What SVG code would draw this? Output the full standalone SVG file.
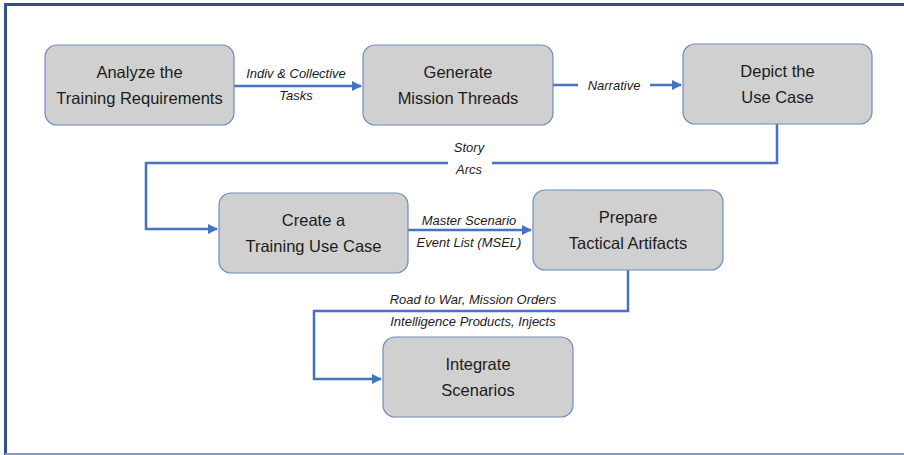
<svg xmlns="http://www.w3.org/2000/svg" width="904" height="455" viewBox="0 0 904 455">
  <defs>
    <marker id="arrow" viewBox="0 0 10 10" refX="9" refY="5" markerWidth="4" markerHeight="4" orient="auto" markerUnits="strokeWidth">
      <path d="M0,0 L10,5 L0,10 z" fill="#4472c4"/>
    </marker>
    <style>
      .node rect { fill: #d0d0d0; stroke: #6f8cbf; stroke-width: 1.2; }
      .node text { font-family: "Liberation Sans", Arial, sans-serif; font-size: 16.5px; fill: #1c1c1c; text-anchor: middle; }
      .conn path { fill: none; stroke: #4472c4; stroke-width: 2.5; }
      .lbl { font-family: "Liberation Sans", Arial, sans-serif; font-size: 13px; font-style: italic; fill: #1c1c1c; text-anchor: middle; }
    </style>
  </defs>
  <rect x="0" y="0" width="904" height="455" fill="#ffffff"/>
  <g id="frame">
    <line x1="5.5" y1="4.5" x2="904" y2="4.5" stroke="#34508a" stroke-width="3"/>
    <line x1="5.5" y1="3" x2="5.5" y2="455" stroke="#34508a" stroke-width="3"/>
    <line x1="5" y1="454" x2="904" y2="454" stroke="#8a9ab8" stroke-width="2"/>
  </g>
  <g id="connectors" class="conn">
    <path d="M234,86 H361" marker-end="url(#arrow)"/>
    <path d="M553,85 H578 M650,85 H681" marker-end="url(#arrow)"/>
    <path d="M777,124 V163 H492 M448,163 H146 V229 H217" marker-end="url(#arrow)"/>
    <path d="M408,230 H531" marker-end="url(#arrow)"/>
    <path d="M628,270 V311 H314 V379 H381" marker-end="url(#arrow)"/>
  </g>
  <g id="labels">
    <text class="lbl" x="296" y="78">Indiv &amp; Collective</text>
    <text class="lbl" x="296" y="100">Tasks</text>
    <text class="lbl" x="614" y="90">Narrative</text>
    <text class="lbl" x="469" y="152">Story</text>
    <text class="lbl" x="469" y="174">Arcs</text>
    <text class="lbl" x="469" y="225">Master Scenario</text>
    <text class="lbl" x="469" y="247">Event List (MSEL)</text>
    <text class="lbl" x="473" y="304">Road to War, Mission Orders</text>
    <text class="lbl" x="473" y="326">Intelligence Products, Injects</text>
  </g>
  <g id="node-analyze" class="node">
    <rect x="45" y="45" width="189" height="80" rx="12"/>
    <text x="139.5" y="78">Analyze the</text>
    <text x="139.5" y="104">Training Requirements</text>
  </g>
  <g id="node-generate" class="node">
    <rect x="363" y="45" width="190" height="80" rx="12"/>
    <text x="458" y="78">Generate</text>
    <text x="458" y="104">Mission Threads</text>
  </g>
  <g id="node-depict" class="node">
    <rect x="683" y="44" width="189" height="80" rx="12"/>
    <text x="777.5" y="77">Depict the</text>
    <text x="777.5" y="103">Use Case</text>
  </g>
  <g id="node-create" class="node">
    <rect x="219" y="193" width="189" height="80" rx="12"/>
    <text x="313.5" y="226">Create a</text>
    <text x="313.5" y="252">Training Use Case</text>
  </g>
  <g id="node-prepare" class="node">
    <rect x="533" y="190" width="190" height="80" rx="12"/>
    <text x="628" y="223">Prepare</text>
    <text x="628" y="249">Tactical Artifacts</text>
  </g>
  <g id="node-integrate" class="node">
    <rect x="383" y="337" width="190" height="80" rx="12"/>
    <text x="478" y="370">Integrate</text>
    <text x="478" y="396">Scenarios</text>
  </g>
</svg>
